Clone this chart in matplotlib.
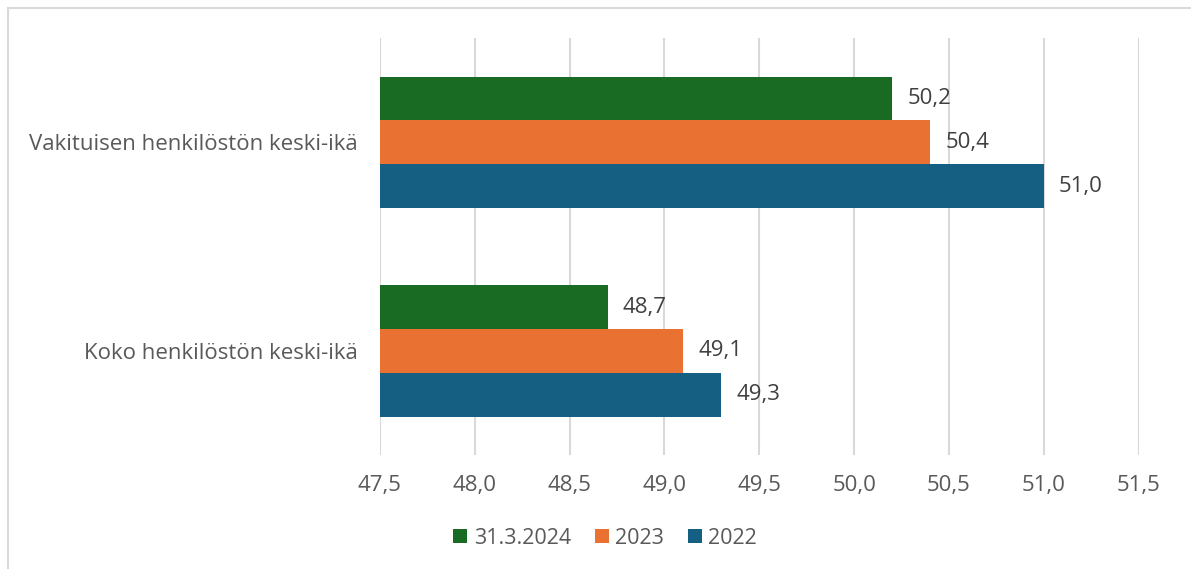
import matplotlib.pyplot as plt
import numpy as np
from matplotlib.patches import Rectangle

plt.rcParams['font.family'] = ['Open Sans', 'DejaVu Sans']

categories = ["Koko henkilöstön keski-ikä", "Vakituisen henkilöstön keski-ikä"]
series_names = ["31.3.2024", "2023", "2022"]
values_2024 = [48.7, 50.2]
values_2023 = [49.1, 50.4]
values_2022 = [49.3, 51.0]
xticks = [47.5, 48.0, 48.5, 49.0, 49.5, 50.0, 50.5, 51.0, 51.5]

colors = ["#196B24", "#E97132", "#156082"]
text_color = "#595959"

fig = plt.figure(figsize=(11.91, 5.69), dpi=100)
ax = fig.add_axes([0.319, 0.200, 0.637, 0.733])

# outer chart frame
fig.patches.append(Rectangle((8 / 1191, -0.1), 1.2, 1.1 - 8 / 569,
                             transform=fig.transFigure, fill=False,
                             edgecolor="#d9d9d9", lw=1.5, zorder=0))

y = np.arange(len(categories))
h = 0.21
offsets = [h, 0.0, -h]
all_vals = [values_2024, values_2023, values_2022]
left = xticks[0]

for vals, off, col, name in zip(all_vals, offsets, colors, series_names):
    widths = [v - left for v in vals]
    ax.barh(y + off, widths, height=h, left=left, color=col, label=name, zorder=3)
    for yi, v in zip(y, vals):
        ax.annotate(f"{v:.1f}".replace(".", ","), xy=(v, yi + off),
                    xytext=(11, 0), textcoords="offset points",
                    va="center", ha="left", fontsize=16, color="#404040")

ax.set_xlim(xticks[0], xticks[-1])
ax.set_ylim(-0.5, 1.5)
ax.set_xticks(xticks)
ax.set_xticklabels([f"{t:.1f}".replace(".", ",") for t in xticks])
ax.set_yticks(y)
ax.set_yticklabels(categories)
ax.tick_params(axis="both", length=0, labelsize=16, colors=text_color)
ax.tick_params(axis="x", pad=14)
ax.tick_params(axis="y", pad=16)
ax.grid(axis="x", color="#d9d9d9", lw=1.5, zorder=0)
for s in ax.spines.values():
    s.set_visible(False)

handles, labels = ax.get_legend_handles_labels()
fig.legend(handles, labels, loc="center", bbox_to_anchor=(0.508, 0.054), ncol=3,
           frameon=False, fontsize=15.5, labelcolor=text_color,
           handlelength=0.65, handleheight=0.65, handletextpad=0.3,
           columnspacing=1.1)

fig.savefig("out.png", dpi=100)
